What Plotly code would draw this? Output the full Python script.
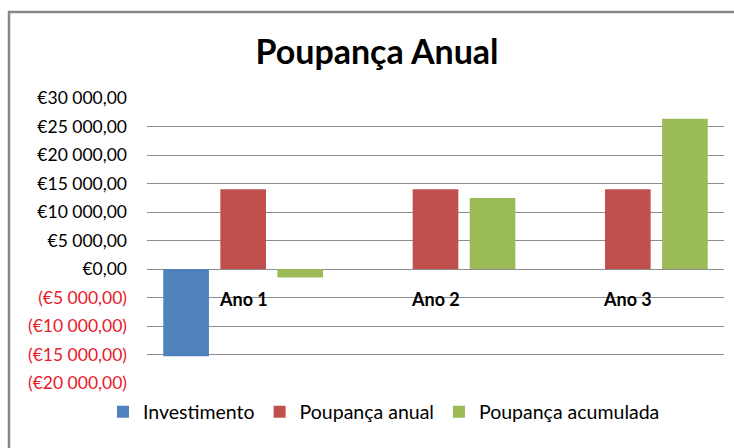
import plotly.graph_objects as go

# Chart data
categories = ["Ano 1", "Ano 2", "Ano 3"]
investimento = [-15300, 0, 0]
poupanca_anual = [14000, 14000, 14000]
poupanca_acumulada = [-1500, 12450, 26350]

series_names = ["Investimento", "Poupança anual", "Poupança acumulada"]
series_colors = ["#4F81BD", "#C0504D", "#9BBB59"]

tick_values = [30000, 25000, 20000, 15000, 10000, 5000, 0, -5000, -10000, -15000, -20000]


def euro(v):
    """Accounting style: €12 000,00 and (€5 000,00) in red for negatives."""
    body = "€" + f"{abs(v):,.2f}".replace(",", " ").replace(".", ",")
    if v < 0:
        return f'<span style="color:#E8202A">({body})</span>'
    return body


tick_text = [euro(v) for v in tick_values]

FONT = "Lato, 'Open Sans', sans-serif"

fig = go.Figure()
for name, vals, col in zip(series_names, [investimento, poupanca_anual, poupanca_acumulada], series_colors):
    fig.add_trace(go.Bar(x=categories, y=vals, name=name, marker_color=col,
                         marker_line_width=0))

# Category labels sit just under the zero line
for cat in categories:
    fig.add_annotation(x=cat, y=0, xref="x", yref="y", text=f"<b>{cat}</b>",
                       showarrow=False, yanchor="top", yshift=-17,
                       font=dict(family=FONT, size=18, color="#000000"))

W, H = 734, 448
L, R, T, B = 147, 10, 98, 65
pw, ph = W - L - R, H - T - B

# Outer chart frame (left and top edges visible)
fig.add_shape(type="rect", xref="paper", yref="paper",
              x0=(9 - L) / pw, x1=(W + 20 - L) / pw,
              y0=-(H + 20 - (T + ph)) / ph, y1=(T + ph - 12) / ph,
              line=dict(color="#868686", width=2.5), fillcolor="rgba(0,0,0,0)",
              layer="below")

fig.update_layout(
    width=W, height=H,
    margin=dict(l=L, r=R, t=T, b=B, autoexpand=False),
    paper_bgcolor="white", plot_bgcolor="white",
    barmode="group", bargap=0.11, bargroupgap=0.2,
    title=dict(text="<b>Poupança Anual</b>", x=377 / W, xref="container", xanchor="center",
               y=1 - 52 / H, yref="container", yanchor="middle",
               font=dict(family=FONT, size=34, color="#000000")),
    font=dict(family=FONT, size=17, color="#000000"),
    xaxis=dict(showticklabels=False, showgrid=False, zeroline=False, showline=False,
               ticks=""),
    yaxis=dict(range=[-20000, 30000], tickvals=tick_values, ticktext=tick_text,
               showgrid=True, gridcolor="#8C8C8C", gridwidth=1,
               zeroline=True, zerolinecolor="#8C8C8C", zerolinewidth=1,
               showline=False, ticks="", ticklabelstandoff=19,
               tickfont=dict(family=FONT, size=17.5, color="#000000")),
    legend=dict(orientation="h", xref="container", yref="container",
                x=384 / W, xanchor="center", y=1 - 412 / H, yanchor="middle",
                font=dict(family=FONT, size=19.5, color="#000000"),
                itemwidth=30, traceorder="normal"),
    showlegend=True,
)

fig.write_html("out.html")
